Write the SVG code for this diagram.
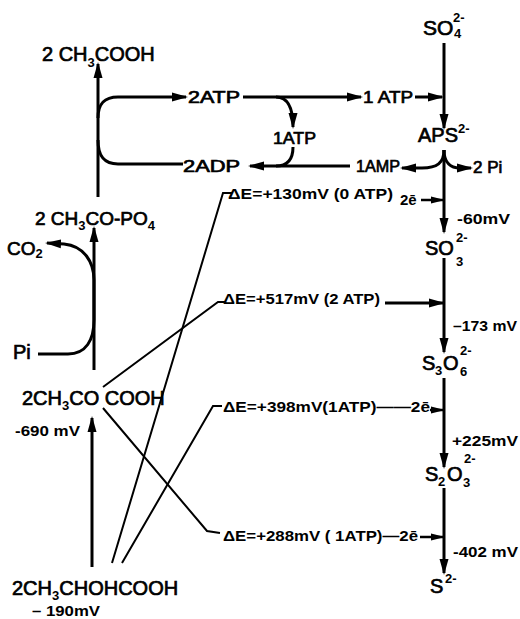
<svg xmlns="http://www.w3.org/2000/svg" width="520" height="619" viewBox="0 0 520 619">
<defs>
<marker id="ah" markerUnits="userSpaceOnUse" markerWidth="16" markerHeight="10" viewBox="0 0 16 10" refX="14" refY="5" orient="auto">
<path d="M0,0.5 L16,5 L0,9.5 z" fill="#000"/>
</marker>
<marker id="ahs" markerUnits="userSpaceOnUse" markerWidth="14" markerHeight="8" viewBox="0 0 14 8" refX="12" refY="4" orient="auto">
<path d="M0,0.5 L14,4 L0,7.5 z" fill="#000"/>
</marker>
</defs>
<style>
.t{font-family:"Liberation Sans",Arial,sans-serif;font-size:20px;fill:#000;stroke:#000;stroke-width:0.7}
.s{font-family:"Liberation Sans",Arial,sans-serif;font-size:13px;fill:#000;font-weight:bold;stroke:none}
.b{font-family:"Liberation Sans",Arial,sans-serif;font-size:15px;font-weight:bold;fill:#000}
.m{font-family:"Liberation Sans",Arial,sans-serif;font-size:17px;fill:#000;stroke:#000;stroke-width:0.7}
.a{fill:none;stroke:#000;stroke-width:3;marker-end:url(#ah)}
.l{fill:none;stroke:#000;stroke-width:3}
.d{fill:none;stroke:#000;stroke-width:2}
.e{fill:none;stroke:#000;stroke-width:2.5;marker-end:url(#ahs)}
</style>
<rect width="520" height="619" fill="#fff"/>

<g id="connectors">
<path class="a" d="M98,197 L98,64"/>
<path class="a" d="M98,118 C98,104 104,97 118,97 L186,97"/>
<path class="l" d="M98,140 C98,156 104,164 118,164 L183,164"/>
<path class="a" d="M243,97 L361,97"/>
<path class="a" d="M276,97 Q293,97 293,127"/>
<path class="l" d="M293,147 Q293,166 276,166"/>
<path class="a" d="M350,166 L250,166"/>
<path class="a" d="M415,97 L442,97"/>
<path class="a" d="M444,43 L444,128"/>
<path class="a" d="M444,150 L444,232"/>
<path class="a" d="M444,150 C444,163 437,168 422,168 L402,168"/>
<path class="a" d="M444,150 C444,163 451,168 460,168 L471,168"/>
<path class="e" d="M421,200 L443,200"/>
<path class="a" d="M444,258 L444,352"/>
<path class="a" d="M385,303 L443,303"/>
<path class="a" d="M444,378 L444,467"/>
<path class="e" d="M430,410 L443,410"/>
<path class="a" d="M444,488 L444,573"/>
<path class="e" d="M420,537 L443,537"/>
<path class="a" d="M94,370 L94,228"/>
<path class="a" d="M38,354 L68,354 C86,354 94,340 94,320 L94,280 C94,262 84,246 64,244 L47,243"/>
<path class="a" d="M92,567 L92,418"/>
<path class="d" d="M112,563 L223,193 L232,193"/>
<path class="d" d="M122,563 L213,406 L222,406"/>
<path class="d" d="M103,387 L218,302 L225,302"/>
<path class="d" d="M103,408 L207,531 L220,533"/>
</g>

<g id="acetate"><text class="t" x="42" y="61">2 CH<tspan class="s" dy="6">3</tspan><tspan dy="-6">COOH</tspan></text></g>
<g id="atp2"><text class="m" x="188" y="103" textLength="52" lengthAdjust="spacingAndGlyphs">2ATP</text></g>
<g id="atp1a"><text class="m" x="273" y="144" textLength="43" lengthAdjust="spacingAndGlyphs">1ATP</text></g>
<g id="adp2"><text class="m" x="183" y="172" textLength="57" lengthAdjust="spacingAndGlyphs">2ADP</text></g>
<g id="atp1b"><text class="m" x="363" y="103" textLength="50" lengthAdjust="spacingAndGlyphs">1 ATP</text></g>
<g id="amp1"><text class="m" x="356" y="172" textLength="44" lengthAdjust="spacingAndGlyphs">1AMP</text></g>
<g id="pi2"><text class="m" x="473" y="173">2 Pi</text></g>

<g id="so4"><text class="t" x="423" y="35" style="font-size:21px">SO</text><text class="s" x="454" y="38">4</text><text class="s" x="453" y="22">2-</text></g>
<g id="aps"><text class="t" x="418" y="142">APS</text><text class="s" x="458" y="133">2-</text></g>
<g id="so3"><text class="t" x="425" y="255">SO</text><text class="s" x="456" y="266">3</text><text class="s" x="456" y="242">2-</text></g>
<g id="s3o6"><text class="t" x="422" y="370">S</text><text class="s" x="435" y="375">3</text><text class="t" x="443" y="370">O</text><text class="s" x="460" y="376">6</text><text class="s" x="460" y="355">2-</text></g>
<g id="s2o3"><text class="t" x="425" y="481">S</text><text class="s" x="438" y="486">2</text><text class="t" x="447" y="481">O</text><text class="s" x="463" y="487">3</text><text class="s" x="464" y="463">2-</text></g>
<g id="s2"><text class="t" x="430" y="593">S</text><text class="s" x="445" y="583">2-</text></g>

<g id="mv"><text class="b" x="457" y="224" textLength="53" lengthAdjust="spacingAndGlyphs">-60mV</text><text class="b" x="453" y="331" textLength="64" lengthAdjust="spacingAndGlyphs">–173 mV</text><text class="b" x="452" y="446" textLength="66" lengthAdjust="spacingAndGlyphs">+225mV</text><text class="b" x="453" y="557" textLength="65" lengthAdjust="spacingAndGlyphs">-402 mV</text></g>

<g id="de130"><text class="b" x="228" y="199" textLength="165" lengthAdjust="spacingAndGlyphs">ΔE=+130mV (0 ATP)</text><text class="b" x="400" y="205">2ē</text></g>
<g id="de517"><text class="b" x="223" y="304" textLength="157" lengthAdjust="spacingAndGlyphs">ΔE=+517mV (2 ATP)</text></g>
<g id="de398"><text class="b" x="223" y="412" textLength="207" lengthAdjust="spacingAndGlyphs">ΔE=+398mV(1ATP)——2ē</text></g>
<g id="de288"><text class="b" x="223" y="541" textLength="195" lengthAdjust="spacingAndGlyphs">ΔE=+288mV ( 1ATP)—2ē</text></g>

<g id="acp"><text class="t" x="35" y="225" style="font-size:19px">2 CH<tspan class="s" dy="5">3</tspan><tspan dy="-5">CO-PO</tspan><tspan class="s" dy="5">4</tspan></text></g>
<g id="co2"><text class="t" x="7" y="255" style="font-size:19px">CO<tspan class="s" dy="3">2</tspan></text></g>
<g id="pi"><text class="t" x="13" y="359">Pi</text></g>
<g id="pyruvate"><text class="t" x="22" y="405">2CH<tspan class="s" dy="5">3</tspan><tspan dy="-5">CO COOH</tspan></text><text class="b" x="15" y="436" textLength="65" lengthAdjust="spacingAndGlyphs">-690 mV</text></g>
<g id="lactate"><text class="t" x="12" y="595">2CH<tspan class="s" dy="5">3</tspan><tspan dy="-5">CHOHCOOH</tspan></text><text class="b" x="32" y="616" textLength="68" lengthAdjust="spacingAndGlyphs">– 190mV</text></g>
</svg>
